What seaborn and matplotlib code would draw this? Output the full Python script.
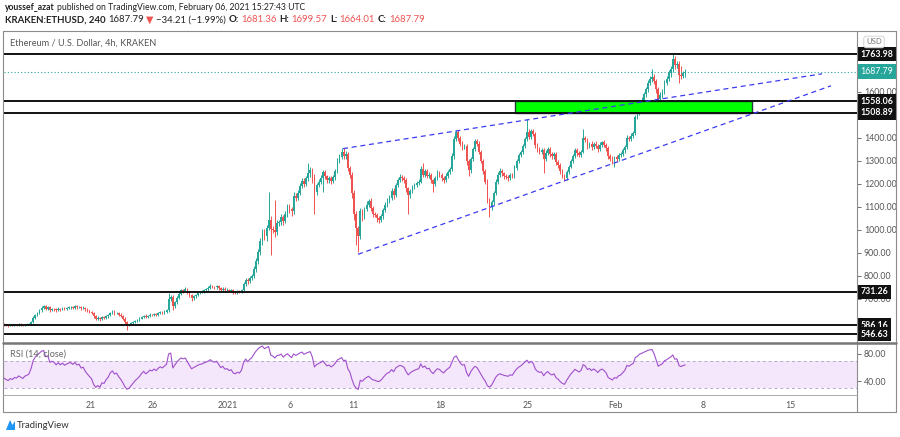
import numpy as np
import pandas as pd
import matplotlib
matplotlib.use('Agg')
import matplotlib.pyplot as plt
import matplotlib.dates as mdates
from matplotlib.patches import Rectangle, Polygon
from matplotlib.lines import Line2D
import seaborn as sns

# 4h closes, one row per day (00,04,08,12,16,20 UTC), 11 Dec 2020 -> 6 Feb 2021
close_rows = [
    [560, 552, 548, 545, 550, 546],      # Dec 11
    [550, 555, 560, 562, 565, 568],
    [572, 575, 580, 585, 588, 590],
    [589, 586, 584, 587, 585, 588],      # Dec 14
    [587, 590, 588, 586, 589, 590],
    [592, 600, 618, 630, 640, 650],
    [662, 668, 658, 664, 652, 657],
    [655, 650, 658, 654, 660, 656],
    [660, 663, 665, 662, 668, 664],
    [666, 660, 662, 655, 650, 645],      # Dec 20
    [640, 625, 615, 618, 612, 620],
    [618, 625, 630, 640, 645, 638],
    [640, 632, 625, 615, 600, 588],
    [590, 595, 600, 606, 610, 615],
    [622, 628, 622, 626, 632, 630],
    [635, 632, 638, 642, 640, 645],
    [650, 700, 708, 668, 685, 705],
    [722, 738, 735, 742, 730, 718],
    [705, 712, 718, 725, 730, 732],
    [738, 742, 748, 756, 752, 750],
    [755, 748, 740, 745, 738, 740],      # Dec 31
    [735, 738, 730, 728, 732, 730],      # Jan 1
    [738, 765, 782, 776, 790, 800],
    [830, 865, 905, 950, 985, 975],
    [1010, 1045, 1005, 1000, 990, 1030],
    [1035, 1055, 1040, 1070, 1100, 1090],
    [1080, 1148, 1140, 1162, 1190, 1212],
    [1200, 1225, 1245, 1260, 1230, 1165],
    [1195, 1210, 1225, 1250, 1232, 1215],
    [1225, 1212, 1228, 1255, 1300, 1318],
    [1340, 1320, 1330, 1270, 1240, 1160],  # Jan 10
    [1070, 1010, 975, 1080, 1060, 1090],
    [1110, 1125, 1095, 1070, 1065, 1050],
    [1045, 1060, 1085, 1110, 1130, 1140],
    [1170, 1150, 1195, 1215, 1230, 1225],
    [1215, 1180, 1150, 1170, 1185, 1195],
    [1205, 1210, 1265, 1240, 1255, 1235],
    [1240, 1215, 1200, 1225, 1245, 1240],
    [1225, 1215, 1235, 1250, 1265, 1320],
    [1395, 1425, 1400, 1375, 1360, 1365],
    [1300, 1260, 1310, 1350, 1385, 1375],  # Jan 20
    [1340, 1300, 1255, 1210, 1130, 1100],
    [1120, 1160, 1210, 1240, 1255, 1245],
    [1235, 1230, 1225, 1240, 1235, 1270],
    [1300, 1325, 1340, 1365, 1395, 1425],
    [1405, 1430, 1415, 1370, 1350, 1340],
    [1345, 1310, 1335, 1350, 1330, 1320],
    [1330, 1295, 1280, 1255, 1235, 1225],
    [1250, 1275, 1300, 1320, 1345, 1335],
    [1325, 1340, 1400, 1390, 1365, 1375],
    [1360, 1375, 1365, 1350, 1370, 1380],
    [1370, 1355, 1320, 1310, 1300, 1315],  # Jan 31
    [1310, 1325, 1330, 1345, 1360, 1400],  # Feb 1
    [1395, 1410, 1420, 1490, 1510, 1550],
    [1565, 1590, 1610, 1640, 1655, 1665],
    [1645, 1610, 1570, 1585, 1600, 1640],
    [1655, 1680, 1700, 1742, 1715, 1722],
    [1675, 1668, 1681.36, 1687.79],        # Feb 6
]

# wick length above / below the candle body
hi_rows = [
    [5, 4, 6, 3, 5, 4], [4, 5, 3, 4, 6, 4], [5, 3, 4, 6, 4, 5],
    [4, 3, 5, 4, 3, 5], [3, 5, 4, 3, 4, 6], [3, 4, 6, 5, 4, 6],
    [8, 6, 5, 4, 6, 5], [5, 4, 6, 4, 5, 4], [4, 5, 4, 6, 5, 4],
    [5, 4, 6, 4, 5, 4], [4, 5, 4, 6, 5, 4], [4, 5, 4, 5, 6, 5],
    [5, 4, 6, 4, 5, 3], [3, 4, 5, 4, 3, 5], [5, 4, 6, 4, 5, 4],
    [4, 5, 4, 6, 5, 5], [6, 25, 10, 8, 6, 8], [8, 6, 7, 8, 6, 5],
    [5, 6, 5, 7, 6, 5], [6, 5, 7, 8, 6, 5], [7, 6, 5, 6, 5, 6],
    [5, 6, 5, 4, 6, 5], [6, 8, 9, 7, 8, 10], [12, 15, 14, 16, 18, 20],
    [12, 120, 15, 10, 130, 15], [10, 12, 8, 10, 14, 12], [10, 15, 12, 10, 14, 12],
    [12, 10, 45, 12, 10, 12], [10, 9, 12, 10, 12, 8], [8, 10, 9, 10, 12, 10],
    [15, 14, 12, 10, 8, 10], [12, 10, 8, 14, 12, 10], [15, 10, 12, 10, 8, 10],
    [9, 8, 10, 9, 8, 10], [12, 10, 9, 10, 14, 10], [9, 10, 8, 9, 10, 8],
    [8, 9, 12, 25, 10, 9], [10, 9, 8, 10, 15, 9], [8, 9, 10, 9, 8, 12],
    [12, 10, 8, 9, 10, 8], [9, 10, 8, 9, 10, 12], [10, 9, 8, 10, 9, 10],
    [12, 10, 9, 10, 12, 9], [8, 9, 10, 8, 9, 10], [9, 10, 8, 9, 10, 55],
    [12, 10, 9, 10, 8, 9], [10, 9, 12, 8, 10, 9], [9, 10, 8, 9, 10, 8],
    [9, 8, 10, 9, 12, 10], [8, 9, 40, 10, 9, 8], [9, 8, 10, 9, 10, 8],
    [10, 9, 8, 10, 9, 8], [9, 10, 8, 9, 10, 12], [10, 12, 11, 10, 12, 14],
    [12, 10, 11, 12, 14, 35], [12, 10, 9, 12, 10, 12], [12, 14, 12, 22, 14, 12],
    [10, 37, 10, 11.78],
]
lo_rows = [
    [4, 6, 5, 4, 3, 5], [5, 4, 6, 3, 4, 5], [4, 5, 3, 4, 5, 4],
    [5, 4, 6, 3, 4, 3], [4, 3, 5, 4, 3, 4], [4, 3, 4, 5, 3, 4],
    [5, 6, 8, 5, 7, 4], [6, 5, 4, 6, 4, 5], [4, 5, 6, 4, 5, 6],
    [5, 6, 4, 7, 5, 6], [6, 8, 7, 5, 6, 5], [5, 4, 6, 5, 4, 6],
    [5, 6, 5, 6, 7, 22], [6, 4, 5, 4, 5, 4], [4, 5, 6, 4, 5, 4],
    [5, 6, 4, 5, 4, 5], [5, 6, 8, 15, 8, 6], [6, 7, 8, 6, 8, 10],
    [15, 8, 6, 7, 5, 6], [6, 5, 7, 6, 5, 8], [6, 7, 8, 6, 7, 5],
    [6, 5, 7, 8, 5, 6], [5, 6, 8, 10, 8, 7], [10, 12, 14, 12, 15, 20],
    [25, 12, 115, 15, 20, 12], [15, 12, 18, 10, 12, 15], [20, 12, 15, 10, 12, 10],
    [12, 10, 12, 14, 25, 95], [12, 10, 9, 60, 10, 12], [10, 12, 9, 10, 8, 10],
    [10, 12, 10, 14, 15, 20], [25, 75, 70, 15, 20, 12], [10, 12, 15, 12, 10, 14],
    [15, 10, 12, 9, 10, 12], [10, 15, 9, 10, 8, 12], [10, 14, 80, 12, 10, 9],
    [10, 9, 8, 12, 10, 9], [10, 12, 35, 10, 9, 10], [12, 10, 9, 10, 8, 9],
    [10, 9, 12, 10, 14, 10], [20, 25, 12, 10, 9, 10], [12, 10, 14, 12, 15, 45],
    [15, 12, 10, 9, 10, 12], [12, 10, 14, 9, 10, 8], [9, 8, 10, 9, 8, 10],
    [12, 10, 9, 14, 12, 10], [10, 62, 9, 10, 12, 10], [10, 12, 9, 12, 10, 14],
    [10, 9, 8, 10, 9, 12], [10, 9, 8, 10, 12, 9], [12, 10, 9, 10, 8, 9],
    [10, 12, 14, 10, 12, 26], [10, 9, 8, 10, 9, 8], [10, 9, 10, 8, 10, 9],
    [10, 9, 12, 10, 9, 12], [12, 14, 13, 12, 10, 9], [12, 10, 14, 12, 15, 12],
    [36, 12, 10, 17.35],
]

levels = [1763.98, 1558.06, 1508.89, 731.26, 586.16, 546.63]
last_price = 1687.79
zone = ('2021-01-23 23:00', '2021-02-11 22:00', 1508.89, 1558.06)
trend_upper = (['2021-01-10 04:50', '2021-02-17 12:30'], [1353, 1678])
trend_lower = (['2021-01-11 09:40', '2021-02-18 05:45'], [894, 1626])
price_ticks = [700, 800, 900, 1000, 1100, 1200, 1300, 1400, 1600]
rsi_ticks = [40, 80]
time_ticks = ['2020-12-21', '2020-12-26', '2021-01-01', '2021-01-06', '2021-01-11',
              '2021-01-18', '2021-01-25', '2021-02-01', '2021-02-08', '2021-02-15']
time_labels = ['21', '26', '2021', '6', '11', '18', '25', 'Feb', '8', '15']

UP, DOWN = '#26a69a', '#ef5350'

closes = np.array([v for r in close_rows for v in r], dtype=float)
hi_ext = np.array([v for r in hi_rows for v in r], dtype=float)
lo_ext = np.array([v for r in lo_rows for v in r], dtype=float)
opens = np.r_[closes[0], closes[:-1]]
highs = np.maximum(opens, closes) + hi_ext
lows = np.minimum(opens, closes) - lo_ext
times = pd.date_range('2020-12-11 00:00', periods=len(closes), freq='4h')
xs = mdates.date2num(times + pd.Timedelta(hours=2))

# RSI(14) with Wilder smoothing
delta = pd.Series(closes).diff()
gain = delta.clip(lower=0).ewm(alpha=1 / 14, adjust=False).mean()
loss = (-delta.clip(upper=0)).ewm(alpha=1 / 14, adjust=False).mean()
rsi = (100 - 100 / (1 + gain / loss)).to_numpy()

sns.set_style('white')
plt.rcParams['font.family'] = ['Lato', 'DejaVu Sans']

W, H = 900, 437
fig = plt.figure(figsize=(W / 100, H / 100), dpi=100)


def fx(px):
    return px / W


def fy(py):
    return 1 - py / H


ax = fig.add_axes([fx(4), fy(342), fx(857) - fx(4), fy(31) - fy(342)])
ax2 = fig.add_axes([fx(4), fy(395), fx(857) - fx(4), fy(344) - fy(395)])

day0 = mdates.date2num(pd.Timestamp('2021-01-01'))
xlim = (day0 - 17.92, day0 + 50.32)

# candles
cols = np.where(closes >= opens, UP, DOWN)
ax.vlines(xs, lows, highs, colors=cols, lw=0.7, zorder=2)
body = np.maximum(np.abs(closes - opens), 2.0)
ax.bar(xs, body, bottom=np.minimum(opens, closes), width=0.13, color=cols,
       linewidth=0, zorder=3)

# supply/demand zone
z0, z1 = mdates.date2num(pd.Timestamp(zone[0])), mdates.date2num(pd.Timestamp(zone[1]))
ax.add_patch(Rectangle((z0, zone[2]), z1 - z0, zone[3] - zone[2], fc='#00ff00',
                       ec='#1f3b3b', lw=1.0, zorder=4))

for lv in levels:
    ax.axhline(lv, color='#111111', lw=1.4, zorder=5)
ax.axhline(last_price, color=UP, ls=(0, (1, 2)), lw=0.8, zorder=5)

for tl in (trend_upper, trend_lower):
    ax.plot(mdates.date2num(pd.to_datetime(tl[0])), tl[1], color='#3b3bf2',
            ls=(0, (4, 3)), lw=0.9, zorder=6)

ax.set_xlim(xlim)
ax.set_ylim(513, 1864)
ax.yaxis.tick_right()
ax.set_yticks(price_ticks)
ax.set_yticklabels([f'{t:.2f}' for t in price_ticks])
ax.tick_params(axis='y', labelsize=6.3, colors='#555555', length=3, width=0.6, pad=2)
ax.set_xticks([])
for s in ax.spines.values():
    s.set_visible(False)

ax.text(fx(10 - 4) / (fx(857) - fx(4)), 0.961, 'Ethereum / U.S. Dollar, 4h, KRAKEN',
        transform=ax.transAxes, fontsize=6.6, color='#555555', va='center')

for lv in levels:
    ax.annotate(f'{lv:.2f}', xy=(1.0, lv), xycoords=('axes fraction', 'data'),
                xytext=(2.5, 0), textcoords='offset points', ha='left', va='center',
                fontsize=6.3, color='white', weight='bold', annotation_clip=False,
                bbox=dict(boxstyle='square,pad=0.3', fc='#111111', ec='none'))
ax.annotate(f'{last_price:.2f}', xy=(1.0, last_price), xycoords=('axes fraction', 'data'),
            xytext=(2.5, 0), textcoords='offset points', ha='left', va='center',
            fontsize=6.3, color='white', annotation_clip=False,
            bbox=dict(boxstyle='square,pad=0.3', fc=UP, ec='none'))

# RSI pane
ax2.axhspan(30, 70, color='#f4e6fb', lw=0, zorder=0)
for lv in (70, 30):
    ax2.axhline(lv, color='#b9a6cc', ls=(0, (3, 3)), lw=0.7, zorder=1)
sns.lineplot(x=xs, y=rsi, ax=ax2, color='#a04fcc', lw=0.8, zorder=3)
ax2.set_xlim(xlim)
ax2.set_ylim(20, 94.3)
ax2.yaxis.tick_right()
ax2.set_yticks(rsi_ticks)
ax2.set_yticklabels([f'{t:.2f}' for t in rsi_ticks])
ax2.tick_params(axis='y', labelsize=6.3, colors='#555555', length=3, width=0.6, pad=2)
ax2.set_xticks(mdates.date2num(pd.to_datetime(time_ticks)))
ax2.set_xticklabels(time_labels)
ax2.tick_params(axis='x', labelsize=6.3, colors='#555555', length=0, pad=4)
for s in ax2.spines.values():
    s.set_visible(False)
ax2.text(0.007, 0.80, 'RSI (14, close)', transform=ax2.transAxes, fontsize=6.6,
         color='#666666', va='center')

# frame of the chart widget
frame = '#8c8c8c'
for xa, ya, lw, c in [
    ((3, 896), (31, 31), 0.8, frame),
    ((3, 896), (412, 412), 0.8, frame),
    ((3, 3), (31, 412), 0.8, frame),
    ((896, 896), (31, 412), 0.8, frame),
    ((857, 857), (31, 412), 0.8, frame),
    ((3, 896), (343, 343), 1.8, '#777777'),
    ((3, 857), (395, 395), 0.7, '#aaaaaa'),
]:
    fig.add_artist(Line2D([fx(xa[0]), fx(xa[1])], [fy(ya[0]), fy(ya[1])], lw=lw,
                          color=c, transform=fig.transFigure))

fig.text(fx(874), fy(42), 'USD', fontsize=5.6, color='#777777', ha='center', va='center',
         bbox=dict(boxstyle='round,pad=0.3', fc='white', ec='#cccccc', lw=0.6))

# header lines
renderer = fig.canvas.get_renderer()


def chain(pieces, x, y, size):
    for txt, color, weight in pieces:
        t = fig.text(x, y, txt, fontsize=size, color=color, weight=weight,
                     ha='left', va='center')
        bb = t.get_window_extent(renderer=renderer)
        x = bb.x1 / fig.bbox.width + fx(2.5)


chain([('youssef_azat', '#222222', 'bold'),
       ('published on TradingView.com, February 06, 2021 15:27:43 UTC', '#222222', 'normal')],
      fx(5), fy(8), 6.2)
red = '#ef5350'
chain([('KRAKEN:ETHUSD, 240', '#222222', 'bold'),
       ('1687.79', '#222222', 'normal'),
       ('▼', red, 'normal'),
       ('\u221234.21 (\u22121.99%)', '#222222', 'normal'),
       ('O:', '#222222', 'bold'), ('1681.36', red, 'normal'),
       ('H:', '#222222', 'bold'), ('1699.57', red, 'normal'),
       ('L:', '#222222', 'bold'), ('1664.01', red, 'normal'),
       ('C:', '#222222', 'bold'), ('1687.79', red, 'normal')],
      fx(5), fy(20), 6.9)

# TradingView logo
fig.add_artist(Polygon([[fx(6), fy(430)], [fx(10), fy(420)], [fx(12.5), fy(425)],
                        [fx(15), fy(421)], [fx(15), fy(430)]], closed=True,
                       fc='#2196f3', ec='none', transform=fig.transFigure))
fig.text(fx(17), fy(425), 'TradingView', fontsize=6.8, color='#333333', va='center')

fig.savefig('out.png', dpi=100)
